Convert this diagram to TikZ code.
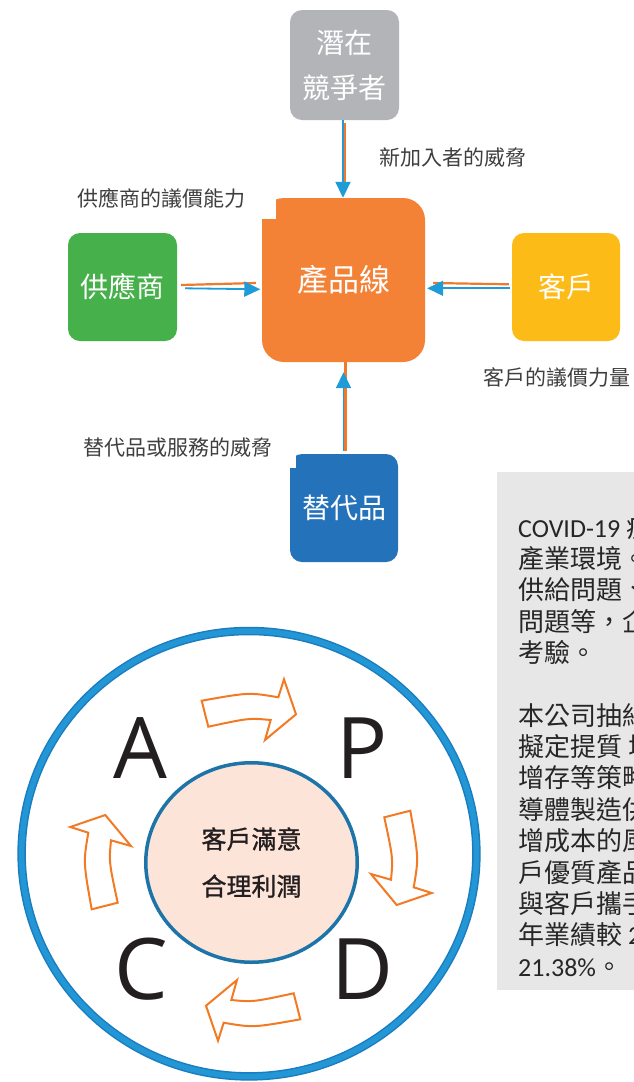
\documentclass[tikz,border=0pt]{standalone}
\usepackage{fontspec}
\setmainfont{Noto Sans CJK TC}
\newfontfamily\cjk{Noto Sans CJK TC}
\newfontfamily\cjkb[FakeBold=1.2]{Noto Sans CJK TC}
\newfontfamily\lat{Carlito}
\newfontfamily\pdcafont{Open Sans}
\usetikzlibrary{arrows.meta,shapes.geometric}
\definecolor{compc}{HTML}{B2B4B7}
\definecolor{prodc}{HTML}{F38236}
\definecolor{supc}{HTML}{46B04A}
\definecolor{cusc}{HTML}{FCBB17}
\definecolor{subc}{HTML}{2472BA}
\definecolor{arrblue}{HTML}{1F9BD7}
\definecolor{arrorange}{HTML}{F07A2C}
\definecolor{lblc}{HTML}{3F3F3F}
\definecolor{boxc}{HTML}{E7E7E7}
\definecolor{bodyc}{HTML}{262626}
\definecolor{ringdark}{HTML}{1B7DBF}
\definecolor{ringc}{HTML}{2397D6}
\definecolor{innerc}{HTML}{1D74A8}
\definecolor{innerfill}{HTML}{FDE4D8}
\definecolor{cycc}{HTML}{F37A24}
\definecolor{letterc}{HTML}{231F20}
\begin{document}
\begin{tikzpicture}[x=1pt,y=-1pt,
  force/.style={rectangle, rounded corners=12pt, inner sep=0pt, text=white,
    font=\cjk\fontsize{28}{45}\selectfont, align=center},
  lbl/.style={inner sep=0pt, text=lblc, font=\cjk\fontsize{21}{25}\selectfont},
  blueline/.style={draw=arrblue, line width=1.8pt, -{Triangle[length=16pt,width=15pt]}},
  orline/.style={draw=arrorange, line width=2.2pt},
  cyc/.style={draw=cycc, line width=2pt, fill=white, line join=miter},
  letter/.style={inner sep=0pt, anchor=base, text=letterc, font=\pdcafont\fontsize{85}{85}\selectfont},
  body/.style={inner sep=0pt, anchor=base west, text=bodyc, font=\cjk\fontsize{26}{31}\selectfont}
]
\useasboundingbox (0,0) rectangle (634,1082);
\fill[white] (0,0) rectangle (634,1082);

% ---------- five forces ----------
\node[force, fill=compc, minimum width=109pt, minimum height=110pt] (comp) at (344.5,65) {潛在\\競爭者};
\node[force, fill=prodc, rounded corners=22pt, minimum width=163pt, minimum height=164pt,
      font=\cjk\fontsize{31}{36}\selectfont] (prod) at (343.5,280) {產品線};
\fill[white] (262,198) rectangle (276,219);
\node[force, fill=supc, minimum width=109pt, minimum height=108pt] (sup) at (122.5,287) {供應商};
\node[force, fill=cusc, minimum width=108pt, minimum height=108pt] (cus) at (566,287) {客戶};
\node[force, fill=subc, minimum width=108pt, minimum height=108pt] (sub) at (344,508) {替代品};
\fill[white] (290,454) rectangle (296,468);

% connectors
\draw[orline] ([xshift=0.5pt,yshift=-3pt]comp.south) -- ([xshift=1.5pt,yshift=12pt]prod.north);
\draw[blueline] ([xshift=-1.5pt]comp.south) -- ([xshift=-0.5pt]prod.north);

\draw[orline] ([xshift=4pt,yshift=2pt]sup.east) -- ([xshift=-6pt,yshift=-3pt]prod.west);
\draw[blueline] ([xshift=8pt,yshift=-1.3pt]sup.east) -- ([xshift=-1.5pt,yshift=-9.3pt]prod.west);

\draw[orline] ([xshift=-3pt,yshift=2.7pt]cus.west) -- ([xshift=8pt,yshift=-3pt]prod.east);
\draw[blueline] ([xshift=-2pt,yshift=-1.3pt]cus.west) -- ([xshift=2pt,yshift=-8.3pt]prod.east);

\draw[orline] ([xshift=1.5pt,yshift=3pt]sub.north) -- ([xshift=2pt]prod.south);
\draw[blueline] ([xshift=-0.5pt,yshift=3pt]sub.north) -- ([yshift=-10pt]prod.south);

% labels
\node[lbl] (lnew) at (453,158) {新加入者的威脅};
\node[lbl] (lsup) at (161.5,198) {供應商的議價能力};
\node[lbl] (lcus) at (557,378) {客戶的議價力量};
\node[lbl] (lsub) at (178,448) {替代品或服務的威脅};

% ---------- text box ----------
\fill[boxc] (497,472) rectangle (634,990);
\begin{scope}
\clip (497,472) rectangle (634,990);
\node[body] (b1) at (518,537) {{\lat COVID-19} 疫情};
\node[body] (b2) at (518,568.4) {產業環境。};
\node[body] (b3) at (518,599.7) {供給問題、};
\node[body] (b4) at (518,631.1) {問題等，企業};
\node[body] (b5) at (518,662.4) {考驗。};
\node[body] (b6) at (518,725.2) {本公司抽絲剝繭};
\node[body] (b7) at (518,756.5) {擬定提質 增量};
\node[body] (b8) at (518,787.9) {增存等策略};
\node[body] (b9) at (518,819.2) {導體製造供應};
\node[body] (b10) at (518,850.6) {增成本的風險};
\node[body] (b11) at (518,882) {戶優質產品};
\node[body] (b12) at (518,913.3) {與客戶攜手};
\node[body] (b13) at (518,944.7) {年業績較 {\lat 2}};
\node[body] (b14) at (518,976) {{\lat 21.38\%}。};
\end{scope}

% ---------- PDCA ----------
\draw[line width=8.5pt, draw=ringdark] (249,853.7) ellipse [x radius=227.4pt, y radius=222.7pt];
\draw[line width=5.5pt, draw=ringc] (249,853.7) ellipse [x radius=227.4pt, y radius=222.7pt];

\foreach \ang in {0,-90,-180,-270}{
  \begin{scope}[shift={(251,860)}, rotate=\ang]
    \draw[cyc] (-49.3,-159.3) .. controls (-2.1,-167.7) .. (27.3,-162.7)
      -- (33,-180.7) -- (45,-145.7) -- (14,-120) -- (19.7,-140)
      .. controls (-1.9,-142.05) .. (-42.7,-133.3) -- cycle;
  \end{scope}
}

\node[ellipse, draw=innerc, line width=3.5pt, fill=innerfill, minimum width=211.5pt,
      minimum height=199.5pt, inner sep=0pt, align=center, text=letterc,
      font=\cjkb\fontsize{25}{47}\selectfont] (core) at (251.5,862.5) {客戶滿意\\合理利潤};

\node[letter] (lA) at (140.5,778) {A};
\node[letter] (lP) at (362.5,778) {P};
\node[letter] (lC) at (141.5,999) {C};
\node[letter] (lD) at (362.5,999) {D};
\end{tikzpicture}
\end{document}
